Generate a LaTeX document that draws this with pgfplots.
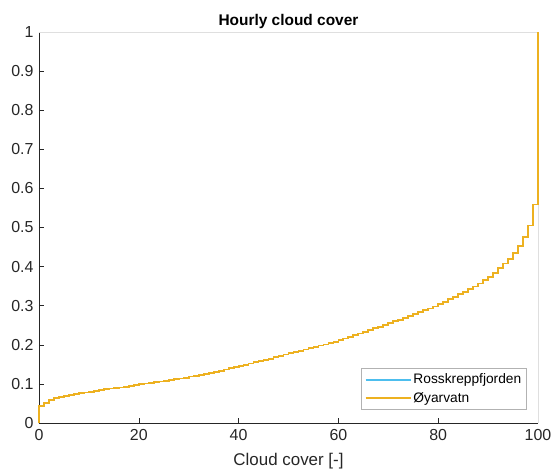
\documentclass[border=0pt]{standalone}
\usepackage{pgfplots}
\pgfplotsset{compat=1.18}
\usepackage{pgfplotstable}
\usepackage{fontspec}
\setmainfont{Liberation Sans}
\definecolor{mblue}{RGB}{77,190,238}
\definecolor{morange}{RGB}{237,177,32}
\definecolor{axgray}{RGB}{38,38,38}
\pgfplotstableread{
x y
0 0
0 0.044
1 0.052
2 0.059
3 0.063
4 0.067
5 0.069
6 0.072
7 0.074
8 0.076
9 0.078
10 0.080
11 0.082
12 0.084
13 0.086
14 0.088
15 0.089
16 0.091
17 0.093
18 0.095
19 0.097
20 0.099
21 0.101
22 0.103
23 0.105
24 0.106
25 0.108
26 0.110
27 0.112
28 0.114
29 0.116
30 0.119
31 0.121
32 0.123
33 0.126
34 0.128
35 0.131
36 0.134
37 0.137
38 0.140
39 0.143
40 0.146
41 0.149
42 0.152
43 0.155
44 0.158
45 0.161
46 0.164
47 0.168
48 0.171
49 0.175
50 0.179
51 0.182
52 0.185
53 0.188
54 0.191
55 0.195
56 0.198
57 0.201
58 0.205
59 0.208
60 0.212
61 0.216
62 0.220
63 0.225
64 0.229
65 0.233
66 0.238
67 0.242
68 0.246
69 0.251
70 0.255
71 0.260
72 0.264
73 0.269
74 0.273
75 0.278
76 0.283
77 0.288
78 0.293
79 0.298
80 0.304
81 0.310
82 0.317
83 0.323
84 0.329
85 0.336
86 0.342
87 0.349
88 0.357
89 0.366
90 0.374
91 0.384
92 0.396
93 0.408
94 0.419
95 0.434
96 0.453
97 0.475
98 0.505
99 0.559
100 1
}\cloudtable
\begin{document}
\begin{tikzpicture}
\begin{axis}[
  scale only axis,
  width=499bp, height=391bp,
  xmin=0, xmax=100, ymin=0, ymax=1,
  axis x line*=bottom, axis y line*=left,
  axis line style={axgray, line width=0.6bp},
  xtick={0,20,...,100},
  ytick={0,0.1,...,1},
  yticklabel style={/pgf/number format/fixed, /pgf/number format/precision=1, xshift=-2bp},
  xticklabel style={yshift=-3bp},
  /pgf/number format/assume math mode=true,
  tick align=inside,
  major tick length=5bp,
  tick style={axgray, line width=0.6bp},
  ticklabel style={font=\fontsize{16}{18}\selectfont, text=axgray},
  xlabel={Cloud cover [-]},
  xlabel style={font=\fontsize{17}{19}\selectfont, text=axgray, yshift=-6bp},
  title={Hourly cloud cover},
  title style={font=\bfseries\fontsize{15.5}{18}\selectfont, yshift=-6bp},
  legend style={at={(0.977,0.033)}, anchor=south east, draw=gray!60, line width=0.6bp,
    font=\fontsize{13.8}{16}\selectfont, inner xsep=3bp, inner ysep=4bp, row sep=3bp,
    legend cell align=left},
  legend image code/.code={\draw[#1, line width=1.8bp] (0bp,0bp) -- (45bp,0bp);},
  clip=false,
]
\draw[gray!25, line width=0.6bp] (axis description cs:0,1) -- (axis description cs:1,1) -- (axis description cs:1,0);
\addplot[const plot, mblue, line width=1.8bp] table[x=x,y=y] {\cloudtable};
\addlegendentry{Rosskreppfjorden}
\addplot[const plot, morange, line width=1.8bp] table[x=x,y=y] {\cloudtable};
\addlegendentry{Øyarvatn}
\end{axis}
\pgfresetboundingbox
\path (-39bp,-49bp) rectangle (518bp,423bp);
\end{tikzpicture}
\end{document}
